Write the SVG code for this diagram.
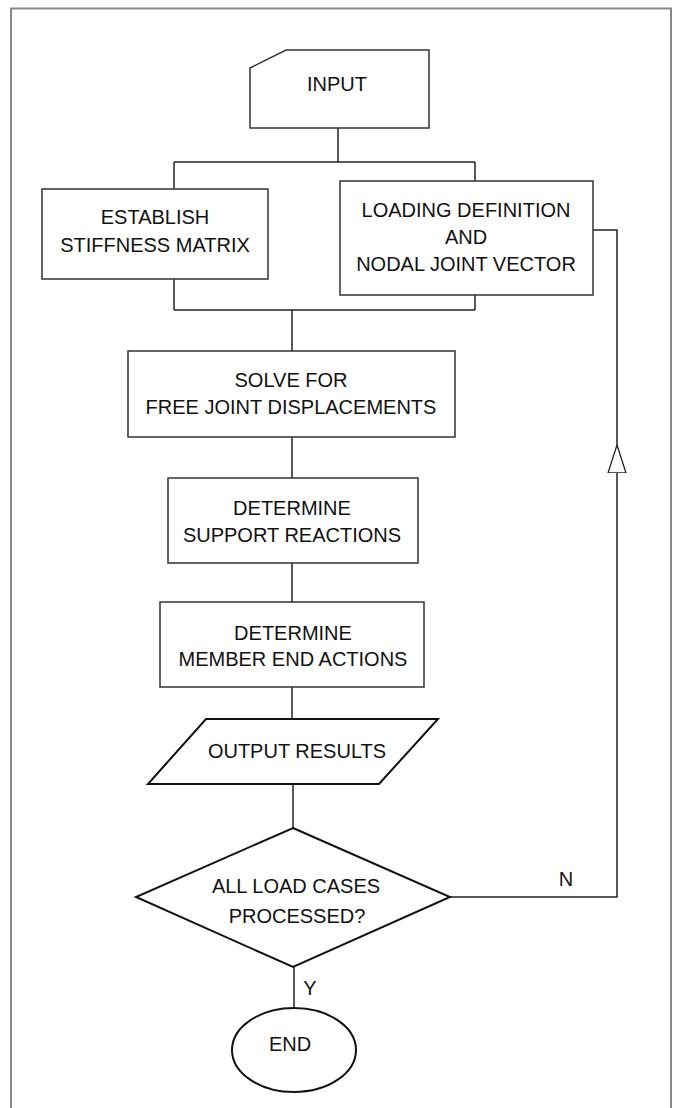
<svg xmlns="http://www.w3.org/2000/svg" width="676" height="1108" viewBox="0 0 676 1108">
<style>
  .box{fill:#fff;stroke:#333;stroke-width:1.5}
  .shape{fill:#fff;stroke:#111;stroke-width:2}
  .ln{fill:none;stroke:#222;stroke-width:1.5}
  text{font-family:"Liberation Sans",Arial,sans-serif;font-size:20px;fill:#111;text-anchor:middle}
</style>
<defs>
  <marker id="openTri" viewBox="0 0 28 20" refX="28" refY="10" markerWidth="28" markerHeight="20" markerUnits="userSpaceOnUse" orient="auto">
    <path d="M28,10 L0,1 L0,19 Z" fill="#fff" stroke="#222" stroke-width="1.3"/>
  </marker>
</defs>
<rect x="11" y="8.5" width="660" height="1120" fill="none" stroke="#888" stroke-width="2"/>

<g id="connectors">
  <path class="ln" d="M338,128 V162"/>
  <path class="ln" d="M174,162 H475"/>
  <path class="ln" d="M174,162 V189"/>
  <path class="ln" d="M475,162 V181"/>
  <path class="ln" d="M174,279 V310"/>
  <path class="ln" d="M475,295 V310"/>
  <path class="ln" d="M174,310 H475"/>
  <path class="ln" d="M292,310 V351"/>
  <path class="ln" d="M292,437 V478"/>
  <path class="ln" d="M292,563 V602"/>
  <path class="ln" d="M292,687 V719"/>
  <path class="ln" d="M293,784 V828"/>
  <path class="ln" d="M294,967 V1008"/>
  <path class="ln" d="M450,897 H617 V473"/>
  <path class="ln" d="M617,473 V445" marker-end="url(#openTri)"/>
  <path class="ln" d="M617,445 V230 H593"/>
  <text x="566" y="886">N</text>
  <text x="310" y="995">Y</text>
</g>

<g id="input">
  <path class="box" d="M250,68 L286,50 H429 V128 H250 Z"/>
  <text x="337" y="91">INPUT</text>
</g>

<g id="stiffness">
  <rect class="box" x="42" y="189" width="226" height="90"/>
  <text x="155" y="224">ESTABLISH</text>
  <text x="155" y="252">STIFFNESS MATRIX</text>
</g>

<g id="loading">
  <rect class="box" x="340" y="181" width="253" height="114"/>
  <text x="466" y="217">LOADING DEFINITION</text>
  <text x="466" y="244">AND</text>
  <text x="466" y="271">NODAL JOINT VECTOR</text>
</g>

<g id="solve">
  <rect class="box" x="128" y="351" width="327" height="86"/>
  <text x="291" y="387">SOLVE FOR</text>
  <text x="291" y="414">FREE JOINT DISPLACEMENTS</text>
</g>

<g id="support">
  <rect class="box" x="168" y="478" width="250" height="85"/>
  <text x="292" y="515">DETERMINE</text>
  <text x="292" y="542">SUPPORT REACTIONS</text>
</g>

<g id="member">
  <rect class="box" x="160" y="602" width="264" height="85"/>
  <text x="293" y="640">DETERMINE</text>
  <text x="293" y="666">MEMBER END ACTIONS</text>
</g>

<g id="output">
  <path class="shape" d="M206,719 H438 L379,784 H148 Z"/>
  <text x="297" y="758">OUTPUT RESULTS</text>
</g>

<g id="decision">
  <path class="shape" d="M293,828 L450,897 L293,967 L136,897 Z"/>
  <text x="296" y="893">ALL LOAD CASES</text>
  <text x="297" y="923">PROCESSED?</text>
</g>

<g id="end">
  <ellipse class="shape" cx="294" cy="1050" rx="62" ry="42"/>
  <text x="290" y="1051">END</text>
</g>
</svg>
